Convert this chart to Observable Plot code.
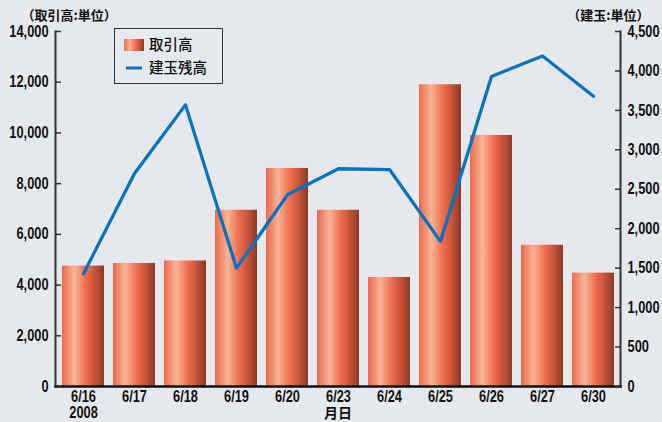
<!DOCTYPE html>
<html><head><meta charset="utf-8">
<script src="https://cdn.jsdelivr.net/npm/d3@7"></script>
<script src="https://cdn.jsdelivr.net/npm/@observablehq/plot@0.6"></script>
<style>
html,body{margin:0;padding:0;background:#e5e9ed;}
#chart{width:662px;height:422px;}
</style></head><body><div id="chart"></div>
<script>
const dates = ["6/16","6/17","6/18","6/19","6/20","6/23","6/24","6/25","6/26","6/27","6/30"];
const volume = [4750,4850,4950,6950,8600,6950,4300,11900,9900,5570,4470];
const openInterest = [1430,2700,3570,1500,2430,2760,2750,1840,3930,4190,3680];
const leftTicks = [0,2000,4000,6000,8000,10000,12000,14000];
const rightTicks = [0,500,1000,1500,2000,2500,3000,3500,4000,4500];
const seriesNames = ["取引高","建玉残高"];
const leftUnit = "（取引高:単位）";
const rightUnit = "（建玉:単位）";
const xTitle = "月日";
const yearLabel = "2008";

const k = 14000 / 4500;
const data = dates.map((d, i) => ({date: d, volume: volume[i], oi: openInterest[i]}));
const fmt = d3.format(",");
const numFont = "'Liberation Sans','Arial',sans-serif";
const cjkFont = "'Noto Sans CJK JP',sans-serif";
const axisColor = "#333";

const plot = Plot.plot({
  width: 662, height: 422,
  marginLeft: 55, marginRight: 42, marginTop: 31, marginBottom: 36,
  style: {background: "transparent", fontFamily: numFont, fontSize: "16px", fontWeight: "bold", color: "#111"},
  x: {domain: dates, paddingInner: 0.18, paddingOuter: 0.09, label: null},
  y: {domain: [0, 14000], label: null},
  marks: [
    Plot.barY(data, {x: "date", y: "volume", fill: "url(#barGrad)"}),
    Plot.lineY(data, {x: "date", y: d => d.oi * k, stroke: "#0b72bc", strokeWidth: 3.3, strokeLinejoin: "round", strokeLinecap: "round"}),
    Plot.frame({anchor: "left", stroke: axisColor, strokeWidth: 2}),
    Plot.frame({anchor: "right", stroke: axisColor, strokeWidth: 2}),
    Plot.frame({anchor: "bottom", stroke: "#111", strokeWidth: 2.5}),
    Plot.axisY({anchor: "left", ticks: leftTicks, tickFormat: fmt, tickSize: 6, dx: 6, tickPadding: 7, stroke: axisColor, strokeWidth: 1.5, label: null}),
    Plot.axisY({anchor: "right", ticks: rightTicks.map(v => v * k), tickFormat: d => fmt(Math.round(d / k)), tickSize: 6, dx: -6, tickPadding: 7, stroke: axisColor, strokeWidth: 1.5, label: null}),
    Plot.axisX({tickSize: 0, tickPadding: 4, label: null}),
    Plot.text([yearLabel], {x: () => dates[0], text: d => d, frameAnchor: "bottom", lineAnchor: "middle", dy: 26}),
    Plot.text([xTitle], {text: d => d, frameAnchor: "bottom", lineAnchor: "middle", dy: 27, fontFamily: cjkFont, fontSize: 14, fontWeight: "bold"}),
    Plot.text([leftUnit], {text: d => d, frameAnchor: "top-left", lineAnchor: "middle", dx: -34, dy: -16, textAnchor: "start", fontFamily: cjkFont, fontSize: 13, fontWeight: "bold"}),
    Plot.text([rightUnit], {text: d => d, frameAnchor: "top-right", lineAnchor: "middle", dx: 29, dy: -16, textAnchor: "end", fontFamily: cjkFont, fontSize: 13, fontWeight: "bold"})
  ]
});

const svg = d3.select(plot);
const defs = svg.insert("defs", ":first-child");
const grad = defs.append("linearGradient").attr("id", "barGrad").attr("x1", "0%").attr("x2", "100%").attr("y1", "0%").attr("y2", "0%");
[["0%", "#ec6a4b"], ["30%", "#f9b498"], ["55%", "#f0704f"], ["75%", "#d0563a"], ["100%", "#8a3a28"]].forEach(([o, c]) => grad.append("stop").attr("offset", o).attr("stop-color", c));

// legend
const lg = svg.append("g").attr("class", "legend").attr("text-anchor", "start");
lg.append("rect").attr("x", 114.5).attr("y", 28.5).attr("width", 108).attr("height", 55).attr("fill", "none").attr("stroke", "#333").attr("stroke-width", 1);
lg.append("rect").attr("x", 124).attr("y", 39).attr("width", 20).attr("height", 12).attr("fill", "url(#barGrad)");
lg.append("line").attr("x1", 126).attr("x2", 142).attr("y1", 68).attr("y2", 68).attr("stroke", "#0b72bc").attr("stroke-width", 3);
seriesNames.forEach((n, i) => {
  lg.append("text").attr("x", 149).attr("y", i === 0 ? 45 : 68).attr("dy", "0.36em").attr("text-anchor", "start")
    .attr("font-family", cjkFont).attr("font-size", 14.5).attr("font-weight", "500").attr("fill", "#111").text(n);
});

document.getElementById("chart").appendChild(plot);

// condense numeric labels (reference uses a condensed bold face)
svg.selectAll("text").each(function () {
  const t = this.textContent;
  if (/^[\d,\/]+$/.test(t)) {
    const len = this.getComputedTextLength();
    this.setAttribute("textLength", (len * 0.8).toFixed(1));
    this.setAttribute("lengthAdjust", "spacingAndGlyphs");
  }
});
</script></body></html>
